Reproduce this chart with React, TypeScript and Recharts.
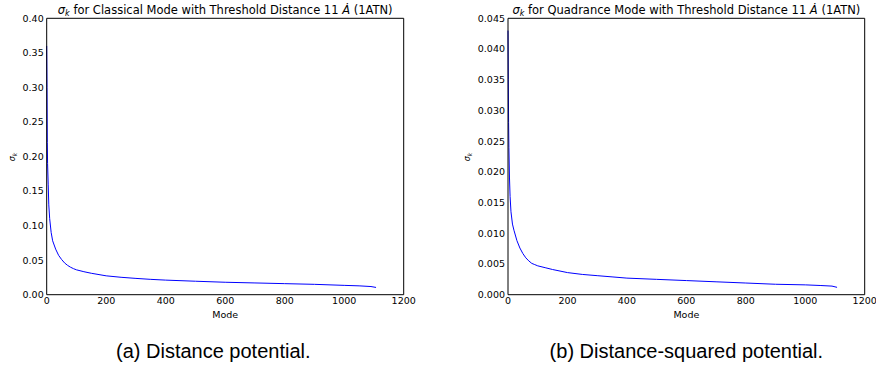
import { Line, LineChart, XAxis, YAxis } from "recharts";

// mode index vs sigma_k
const modes = [0, 1, 2, 3, 5, 7, 10, 15, 20, 30, 40, 50, 60, 70, 80, 90, 100, 125, 150, 200, 250, 300, 350, 400, 500, 600, 700, 800, 900, 1000, 1050, 1090, 1107];
const classicalSigma = [0.36, 0.3, 0.22, 0.19, 0.16, 0.13, 0.11, 0.09, 0.078, 0.066, 0.057, 0.051, 0.046, 0.0425, 0.0398, 0.0377, 0.036, 0.0333, 0.031, 0.0273, 0.0252, 0.0236, 0.0222, 0.0211, 0.0195, 0.018, 0.017, 0.016, 0.015, 0.0135, 0.0128, 0.0118, 0.0105];
const quadranceSigma = [0.043, 0.035, 0.028, 0.024, 0.019, 0.016, 0.0135, 0.0115, 0.0105, 0.0088, 0.0076, 0.0067, 0.006, 0.0055, 0.0051, 0.0049, 0.0047, 0.0044, 0.0041, 0.0036, 0.0033, 0.0031, 0.0029, 0.0027, 0.0025, 0.0023, 0.0021, 0.0019, 0.0017, 0.0016, 0.0015, 0.0014, 0.0012];

const xTicks = [0, 200, 400, 600, 800, 1000, 1200];
const classicalTicks = [0, 0.05, 0.1, 0.15, 0.2, 0.25, 0.3, 0.35, 0.4];
const quadranceTicks = [0, 0.005, 0.01, 0.015, 0.02, 0.025, 0.03, 0.035, 0.04, 0.045];

const FONT = "DejaVu Sans";
const tickStyle = { fontSize: 9.5, fill: "#000", fontFamily: FONT };

type PanelProps = {
  values: number[];
  yTicks: number[];
  digits: number;
  left: number;
  yAxisWidth: number;
  marginLeft: number;
  marginRight: number;
};

function Panel({ values, yTicks, digits, left, yAxisWidth, marginLeft, marginRight }: PanelProps) {
  const data = modes.map((m, i) => ({ mode: m, sigma: values[i] }));
  const yMax = yTicks[yTicks.length - 1];
  return (
    <div style={{ position: "absolute", left, top: 0 }}>
      <LineChart
        width={438}
        height={330}
        data={data}
        margin={{ top: 18.3, right: marginRight, bottom: 0.3, left: marginLeft }}
      >
        <XAxis
          dataKey="mode"
          type="number"
          domain={[0, 1200]}
          ticks={xTicks}
          interval={0}
          tickLine={false}
          tickSize={0}
          tickMargin={3}
          height={35}
          axisLine={{ stroke: "#000" }}
          tick={tickStyle}
        />
        <XAxis xAxisId="bm" orientation="bottom" type="number" domain={[0, 1200]} ticks={xTicks} interval={0} mirror tick={false} tickSize={4} axisLine={false} tickLine={{ stroke: "#000" }} />
        <XAxis xAxisId="top" orientation="top" type="number" domain={[0, 1200]} ticks={xTicks} interval={0} mirror tick={false} tickSize={4} axisLine={{ stroke: "#000" }} tickLine={{ stroke: "#000" }} />
        <YAxis
          type="number"
          domain={[0, yMax]}
          ticks={yTicks}
          interval={0}
          width={yAxisWidth}
          tickLine={false}
          tickSize={0}
          tickMargin={3}
          axisLine={{ stroke: "#000" }}
          tick={tickStyle}
          tickFormatter={(v: number) => v.toFixed(digits)}
        />
        <YAxis yAxisId="lm" orientation="left" type="number" domain={[0, yMax]} ticks={yTicks} interval={0} mirror tick={false} tickSize={4} axisLine={false} tickLine={{ stroke: "#000" }} />
        <YAxis yAxisId="rm" orientation="right" type="number" domain={[0, yMax]} ticks={yTicks} interval={0} mirror tick={false} tickSize={4} axisLine={{ stroke: "#000" }} tickLine={{ stroke: "#000" }} />
        <Line
          type="linear"
          dataKey="sigma"
          stroke="#0000ff"
          strokeWidth={1}
          dot={false}
          isAnimationActive={false}
        />
      </LineChart>
    </div>
  );
}

function Title({ x, mode }: { x: number; mode: string }) {
  return (
    <text x={x} y={13.5} textAnchor="middle" fontFamily={FONT} fontSize={11.5} fill="#000">
      <tspan fontStyle="italic">σ</tspan>
      <tspan fontStyle="italic" fontSize={8} dy={2}>k</tspan>
      <tspan dy={-2}>{` for ${mode} Mode with Threshold Distance 11 `}</tspan>
      <tspan fontStyle="italic">Ȧ</tspan>
      <tspan> (1ATN)</tspan>
    </text>
  );
}

function SigmaLabel({ x, y }: { x: number; y: number }) {
  return (
    <text transform={`translate(${x},${y}) rotate(-90)`} textAnchor="middle" fontFamily={FONT} fontSize={8} fill="#000">
      <tspan fontStyle="italic">σ</tspan>
      <tspan fontStyle="italic" fontSize={6} dy={1.5}>k</tspan>
    </text>
  );
}

export default function App() {
  const leftCenter = (46.7 + 403.7) / 2;
  const rightCenter = (508 + 864.7) / 2;
  return (
    <div style={{ position: "absolute", left: 0, top: 0, width: 876, height: 369, background: "#fff", overflow: "hidden" }}>
      <Panel values={classicalSigma} yTicks={classicalTicks} digits={2} left={0} yAxisWidth={40} marginLeft={6.7} marginRight={34.3} />
      <Panel values={quadranceSigma} yTicks={quadranceTicks} digits={3} left={438} yAxisWidth={50} marginLeft={20} marginRight={11.3} />
      <svg width={876} height={369} style={{ position: "absolute", left: 0, top: 0, pointerEvents: "none" }}>
        <Title x={leftCenter} mode="Classical" />
        <Title x={rightCenter} mode="Quadrance" />
        <text x={leftCenter} y={318} textAnchor="middle" fontFamily={FONT} fontSize={9.5}>Mode</text>
        <text x={rightCenter} y={318} textAnchor="middle" fontFamily={FONT} fontSize={9.5}>Mode</text>
        <SigmaLabel x={15} y={157} />
        <SigmaLabel x={470} y={157} />
        <text x={116} y={357.5} fontFamily="Liberation Sans" fontSize={20}>(a) Distance potential.</text>
        <text x={rightCenter} y={357.5} textAnchor="middle" fontFamily="Liberation Sans" fontSize={20}>(b) Distance-squared potential.</text>
      </svg>
    </div>
  );
}
